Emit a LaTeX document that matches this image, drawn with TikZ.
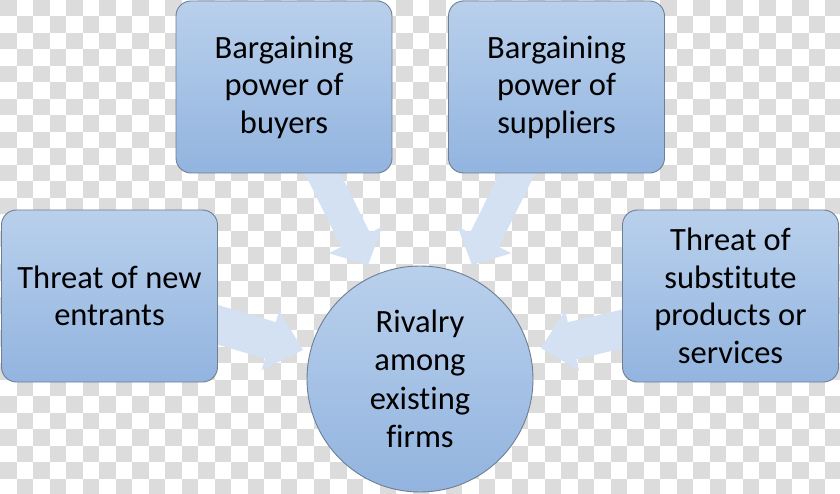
\documentclass[tikz,border=0pt]{standalone}
\usepackage{fontspec}
\setmainfont{Carlito}[Ligatures={NoCommon}]
\usetikzlibrary{calc}
\definecolor{chk}{HTML}{DCDCDC}
\definecolor{arr}{HTML}{D4E1F3}
\definecolor{btop}{HTML}{B9D0EC}
\definecolor{bbot}{HTML}{92B4DF}
\definecolor{bdr}{HTML}{6F7E93}
% block arrow: start, tip, half shaft width, half head width, head length
\newcommand\blockarrow[5]{%
  \path ($(#2)!#5!(#1)$) coordinate (hb);
  \fill[arrowfill] ($(#1)!#3!90:(#2)$) -- ($(hb)!#3!90:(#2)$) -- ($(hb)!#4!90:(#2)$)
    -- (#2) -- ($(hb)!#4!-90:(#2)$) -- ($(hb)!#3!-90:(#2)$) -- ($(#1)!#3!-90:(#2)$) -- cycle;
}
\tikzset{
  box/.style={rectangle, rounded corners=15pt, draw=bdr, line width=0.9pt,
    top color=btop, bottom color=bbot, minimum width=216pt, minimum height=172pt,
    inner sep=0pt, align=center, font=\fontsize{32.5}{37.5}\selectfont, text=black},
  rivalc/.style={circle, draw=bdr, line width=0.9pt, top color=btop, bottom color=bbot,
    minimum size=226pt, inner sep=0pt, align=center, font=\fontsize{32.5}{38.5}\selectfont, text=black},
  arrowfill/.style={fill=arr}
}
\begin{document}
\begin{tikzpicture}[x=1pt,y=-1pt]
\useasboundingbox (0,0) rectangle (840,494);
\begin{scope}
  \clip (0,0) rectangle (840,494);
  \fill[white] (0,0) rectangle (840,494);
  \foreach \j in {0,...,29}{
    \pgfmathtruncatemacro\st{mod(\j,2)}
    \pgfmathtruncatemacro\stb{\st+2}
    \foreach \i in {\st,\stb,...,50}{
      \fill[chk] (\i*16.5,\j*16.5) rectangle ++(16.5,16.5);
    }
  }
\end{scope}
% arrow anchor coordinates
\coordinate (buyS) at (316,160);
\coordinate (buyT) at (368,265);
\coordinate (supS) at (524,160);
\coordinate (supT) at (472,265);
\coordinate (entS) at (205,321);
\coordinate (entT) at (303,350);
\coordinate (subS) at (635,326);
\coordinate (subT) at (541,348);
\blockarrow{buyS}{buyT}{16pt}{30pt}{28pt}
\blockarrow{supS}{supT}{16pt}{30pt}{28pt}
\blockarrow{entS}{entT}{19pt}{31pt}{34pt}
\blockarrow{subS}{subT}{19pt}{31pt}{32pt}
% boxes
\node[box] (buyers) at (284,87) {Bargaining\\power of\\buyers};
\node[box] (suppliers) at (556.5,87) {Bargaining\\power of\\suppliers};
\node[box] (entrants) at (109.5,296) {Threat of new\\entrants};
\node[box] (subst) at (730.5,296) {Threat of\\substitute\\products or\\services};
\node[rivalc] (rival) at (420,379) {Rivalry\\among\\existing\\firms};
\end{tikzpicture}
\end{document}
